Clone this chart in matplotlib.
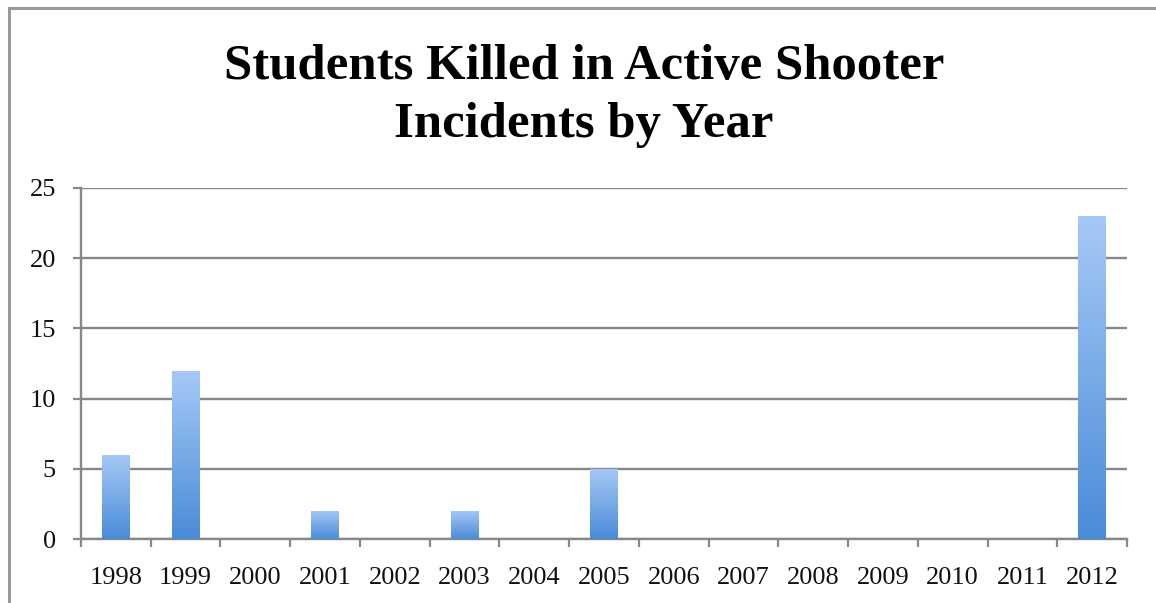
import matplotlib
matplotlib.use("Agg")
import matplotlib.pyplot as plt
import numpy as np
from matplotlib.patches import Rectangle
from matplotlib.colors import LinearSegmentedColormap

years = ["1998", "1999", "2000", "2001", "2002", "2003", "2004", "2005",
         "2006", "2007", "2008", "2009", "2010", "2011", "2012"]
killed = [6, 12, 0, 2, 0, 2, 0, 5, 0, 0, 0, 0, 0, 0, 23]
title = "Students Killed in Active Shooter\nIncidents by Year"

W, H = 1156, 603
fig = plt.figure(figsize=(W / 100, H / 100), dpi=100)
fig.patch.set_facecolor("white")

# outer chart frame (left & top edges visible)
fig.add_artist(Rectangle((9 / W, -0.1), 1.2, (H - 8) / H + 0.1, transform=fig.transFigure,
                         fill=False, edgecolor="#999999", linewidth=2.2))

ax = fig.add_axes([81 / W, (H - 539) / H, (1127 - 81) / W, (539 - 188) / H])
serif = ["Liberation Serif", "DejaVu Serif"]

x = np.arange(len(years))
bars = ax.bar(x, killed, width=0.4, color="none", edgecolor="none", zorder=3)
cmap = LinearSegmentedColormap.from_list("g", ["#4a8cd8", "#a6c9f6"])
grad = np.linspace(0, 1, 256).reshape(-1, 1)
for b in bars:
    h = b.get_height()
    if h <= 0:
        continue
    x0 = b.get_x()
    im = ax.imshow(grad, cmap=cmap, origin="lower", aspect="auto",
                   extent=(x0, x0 + b.get_width(), 0, h), zorder=3)
    im.set_clip_path(b)

ax.set_xlim(-0.5, len(years) - 0.5)
ax.set_ylim(0, 25)
ax.set_yticks([0, 5, 10, 15, 20, 25])
ax.set_xticks(x)
ax.set_xticklabels(years)
ax.set_xticks(np.arange(len(years) + 1) - 0.5, minor=True)
ax.tick_params(axis="x", which="major", length=0, pad=20, labelsize=19, labelcolor="#111111")
ax.tick_params(axis="x", which="minor", length=6, width=1.6, color="#888888", direction="out")
ax.tick_params(axis="y", length=6, width=1.6, color="#888888", pad=12, labelsize=19, labelcolor="#111111")
for lab in ax.get_xticklabels() + ax.get_yticklabels():
    lab.set_family(serif)

ax.yaxis.grid(True, color="#888888", linewidth=1.7, zorder=0)
ax.set_axisbelow(True)
for s in ["top", "right"]:
    ax.spines[s].set_visible(False)
for s in ["left", "bottom"]:
    ax.spines[s].set_color("#888888")
    ax.spines[s].set_linewidth(1.7)

fig.text(584 / W, 1 - 96 / H, title, ha="center", va="center", fontsize=36.5,
         fontweight="bold", family=serif, linespacing=1.32, color="black")

fig.savefig("out.png", dpi=100, facecolor="white")
